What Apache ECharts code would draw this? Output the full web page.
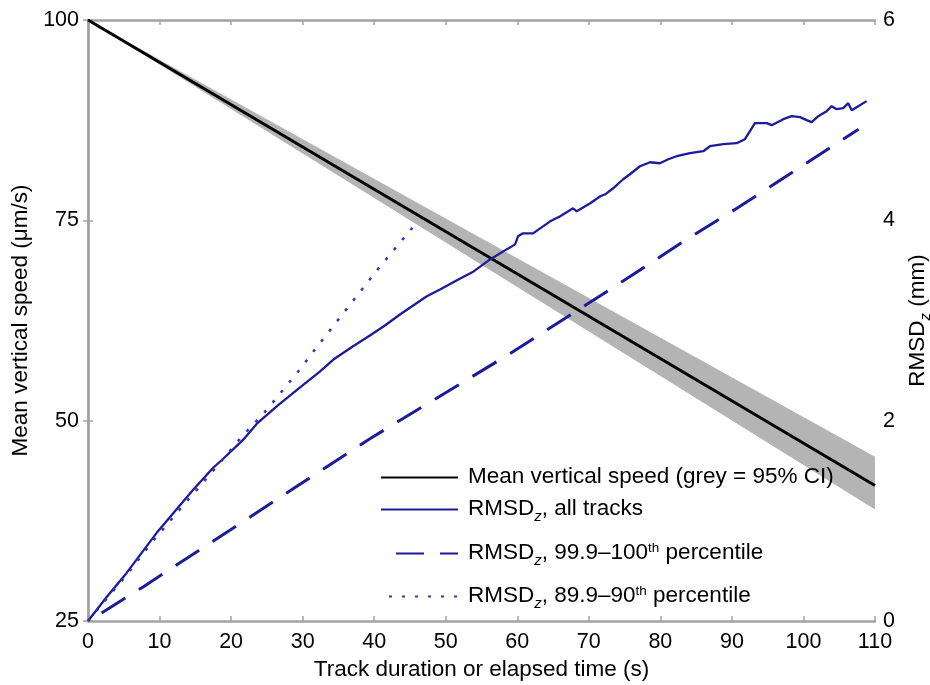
<!DOCTYPE html>
<html>
<head>
<meta charset="utf-8">
<script src="https://cdn.jsdelivr.net/npm/echarts@6/dist/echarts.min.js"></script>
<style>
  html, body { margin: 0; padding: 0; background: #fff; }
  #main { width: 930px; height: 685px; }
</style>
</head>
<body>
<div id="main"></div>
<script>
// mean vertical speed (left axis), straight fit with 95% CI band
const meanTime = [0, 110];
const meanSpeed = [100, 41.9];
const ciUpper = [100, 45.5];
const ciLower = [100, 38.9];

// RMSD_z, all tracks (right axis, mm)
const allTime = [0, 2.5, 5.4, 9.6, 14.7, 17.5, 18.9, 21.7, 23.6, 26.5, 29.6, 32.4, 34.3, 37, 39.4, 41.5,
  43.6, 47.3, 49.2, 51.5, 53.9, 56.2, 58.5, 59.7, 60.1, 60.8, 62.2, 64.6, 66.0, 67.8, 68.3, 70.2,
  71.6, 72.3, 73.4, 74.8, 75.75, 77.15, 78.55, 79.94, 81.1, 82.28, 84.14, 86.0, 86.93, 88.79,
  90.66, 91.82, 92.52, 93.22, 94.86, 95.56, 97.18, 98.35, 99.51, 100.45, 101.15, 102.07, 103.24,
  103.94, 104.64, 105.56, 106.26, 106.74, 107.66, 108.83];
const allRmsd = [0, 0.23, 0.48, 0.88, 1.31, 1.53, 1.62, 1.81, 1.97, 2.15, 2.33, 2.49, 2.61, 2.74, 2.85, 2.95,
  3.06, 3.24, 3.31, 3.40, 3.49, 3.61, 3.71, 3.76, 3.84, 3.87, 3.87, 3.99, 4.04, 4.12, 4.09, 4.17,
  4.24, 4.26, 4.32, 4.41, 4.46, 4.54, 4.58, 4.57, 4.61, 4.64, 4.67, 4.69, 4.74, 4.76,
  4.77, 4.81, 4.89, 4.97, 4.97, 4.95, 5.01, 5.04, 5.03, 5.00, 4.98, 5.04, 5.09,
  5.14, 5.11, 5.12, 5.17, 5.10, 5.14, 5.19];

// RMSD_z, 99.9-100th percentile
const topTime = [1.9, 7.7, 30.6, 39.4, 59.0, 73.4, 83.9, 90.7, 107.7];
const topRmsd = [0.08, 0.34, 1.41, 1.82, 2.67, 3.33, 3.82, 4.12, 4.91];

// RMSD_z, 89.9-90th percentile
const p90Time = [0, 5.4, 9.1, 13.5, 17.5, 21, 25, 29.6, 31.5, 36.2, 40.6, 45.5, 46];
const p90Rmsd = [0, 0.46, 0.80, 1.17, 1.50, 1.80, 2.11, 2.51, 2.69, 3.12, 3.52, 3.94, 3.99];

const xTicks = { min: 0, max: 110, interval: 10 };
const leftTicks = { min: 25, max: 100, interval: 25 };
const rightTicks = { min: 0, max: 6, interval: 2 };

const FONT = '"Liberation Sans", Arial, sans-serif';
const BLUE = '#1c1c9a';
const AXIS = '#a3a3a3';
const FS = 22.5;   // names + legend
const TICK_FS = 21.5;

function pairs(xs, ys) {
  return xs.map((x, i) => [x, ys[i]]);
}

const rich = {
  t: { fontSize: FS, lineHeight: 25, verticalAlign: 'top', color: '#000', fontFamily: FONT },
  sub: { fontSize: 15, lineHeight: 15, fontStyle: 'italic', padding: [12, 0, 0, 0], verticalAlign: 'top', color: '#000', fontFamily: FONT },
  sup: { fontSize: 13.5, lineHeight: 13.5, verticalAlign: 'top', color: '#000', fontFamily: FONT }
};

const legendNames = [
  'Mean vertical speed',
  'RMSD all tracks',
  'RMSD 99.9-100th',
  'RMSD 89.9-90th'
];
const legendTexts = [
  '{t|Mean vertical speed (grey = 95% CI)}',
  '{t|RMSD}{sub|z}{t|, all tracks}',
  '{t|RMSD}{sub|z}{t|, 99.9–100}{sup|th}{t| percentile}',
  '{t|RMSD}{sub|z}{t|, 89.9–90}{sup|th}{t| percentile}'
];

function legendAt(i, left, top, width) {
  return {
    data: [legendNames[i]],
    left: left,
    top: top,
    padding: 0,
    itemWidth: width,
    itemHeight: 14,
    selectedMode: false,
    itemStyle: { opacity: 0 },
    formatter: () => legendTexts[i],
    textStyle: { fontSize: FS, color: '#000', fontFamily: FONT, padding: [0, 0, 0, 5], rich: rich }
  };
}

let myChart = echarts.init(document.getElementById('main'));

let axisCommon = {
  type: 'value',
  splitLine: { show: false },
  axisLine: { show: true, lineStyle: { color: AXIS, width: 2.5 } },
  axisTick: { show: true, inside: true, length: 5, lineStyle: { color: AXIS, width: 1.5 } },
  axisLabel: { color: '#000', fontSize: TICK_FS, fontFamily: FONT }
};

let option = {
  animation: false,
  backgroundColor: '#fff',
  textStyle: { fontFamily: FONT },
  grid: { left: 88, right: 55, top: 20, bottom: 64, containLabel: false, outerBoundsMode: 'none' },
  legend: [
    legendAt(0, 380, 465, 77),
    legendAt(1, 380, 497, 77),
    legendAt(2, 395, 541, 62),
    legendAt(3, 388, 584, 69)
  ],
  xAxis: [
    Object.assign({}, axisCommon, xTicks, {
      position: 'bottom',
      name: 'Track duration or elapsed time (s)',
      nameLocation: 'middle',
      nameGap: 26,
      nameTextStyle: { color: '#000', fontSize: FS, fontFamily: FONT },
      axisLabel: { color: '#000', fontSize: TICK_FS, fontFamily: FONT, margin: 10 }
    }),
    Object.assign({}, axisCommon, xTicks, {
      position: 'top',
      axisLabel: { show: false }
    })
  ],
  yAxis: [
    Object.assign({}, axisCommon, leftTicks, {
      position: 'left',
      name: 'Mean vertical speed (μm/s)',
      nameLocation: 'middle',
      nameGap: 52,
      nameTextStyle: { color: '#000', fontSize: FS, fontFamily: FONT },
      axisLabel: { color: '#000', fontSize: TICK_FS, fontFamily: FONT, margin: 9 }
    }),
    Object.assign({}, axisCommon, rightTicks, {
      position: 'right',
      name: '{t|RMSD}{sub|z}{t| (mm)}',
      nameLocation: 'middle',
      nameRotate: 90,
      nameGap: 25,
      nameTextStyle: { color: '#000', fontSize: FS, fontFamily: FONT, rich: rich },
      axisLabel: { color: '#000', fontSize: TICK_FS, fontFamily: FONT, margin: 8 }
    })
  ],
  series: [
    {
      // 95% CI band
      type: 'custom',
      name: 'CI',
      xAxisIndex: 0,
      yAxisIndex: 0,
      silent: true,
      data: [[meanTime[0], ciUpper[0]]],
      renderItem: function (params, api) {
        let pts = [];
        for (let i = 0; i < meanTime.length; i++) pts.push(api.coord([meanTime[i], ciUpper[i]]));
        for (let i = meanTime.length - 1; i >= 0; i--) pts.push(api.coord([meanTime[i], ciLower[i]]));
        return { type: 'polygon', shape: { points: pts }, style: { fill: '#b4b4b4' } };
      },
      z: 1
    },
    {
      name: legendNames[0],
      type: 'line',
      xAxisIndex: 0,
      yAxisIndex: 0,
      data: pairs(meanTime, meanSpeed),
      symbol: 'none',
      lineStyle: { color: '#000', width: 3 },
      itemStyle: { color: '#000' },
      z: 2
    },
    {
      name: legendNames[1],
      type: 'line',
      xAxisIndex: 0,
      yAxisIndex: 1,
      data: pairs(allTime, allRmsd),
      symbol: 'none',
      lineStyle: { color: BLUE, width: 2.3 },
      itemStyle: { color: BLUE },
      z: 3
    },
    {
      name: legendNames[2],
      type: 'line',
      xAxisIndex: 0,
      yAxisIndex: 1,
      data: pairs(topTime, topRmsd),
      symbol: 'none',
      lineStyle: { color: BLUE, width: 3, type: [28, 16] },
      itemStyle: { color: BLUE },
      z: 3
    },
    {
      name: legendNames[3],
      type: 'line',
      xAxisIndex: 0,
      yAxisIndex: 1,
      data: pairs(p90Time, p90Rmsd),
      symbol: 'none',
      lineStyle: { color: '#3434b4', width: 2.5, type: [3, 10] },
      itemStyle: { color: '#3434b4' },
      z: 3
    }
  ]
};

myChart.setOption(option);
</script>
</body>
</html>
